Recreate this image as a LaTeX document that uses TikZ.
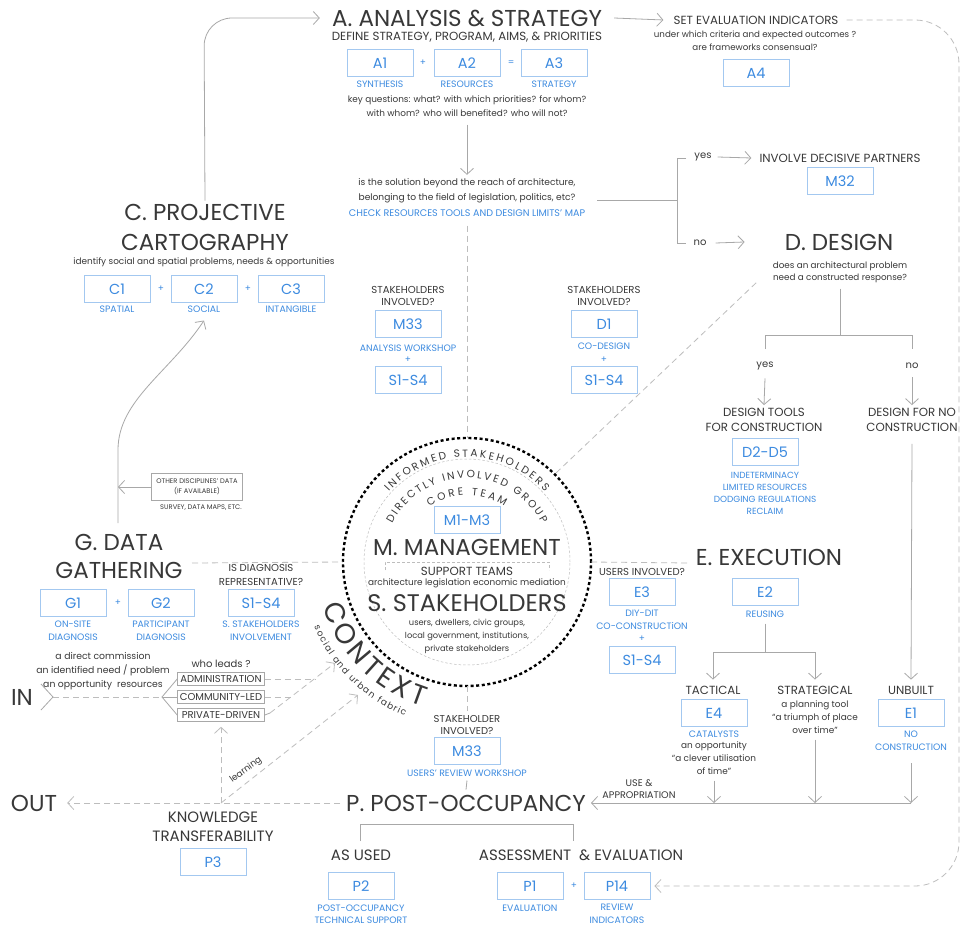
\documentclass[tikz,border=0pt]{standalone}
\usepackage{fontspec}
\setmainfont{Poppins}
\usetikzlibrary{arrows.meta,decorations.text,calc}
\definecolor{ink}{HTML}{383838}
\definecolor{blu}{HTML}{3D8BE0}
\definecolor{boxblue}{HTML}{A3C8F0}
\definecolor{wire}{HTML}{A8A8A8}
\definecolor{faint}{HTML}{BDBDBD}
\tikzset{
  lbl/.style={inner sep=0pt, align=center, text=ink},
  ttl/.style={lbl, font=\fontsize{23}{29}\selectfont},
  sect/.style={lbl, font=\fontsize{15}{19}\selectfont},
  subh/.style={lbl, font=\fontsize{11.8}{15}\selectfont},
  hd/.style={lbl, font=\fontsize{10.1}{12.5}\selectfont},
  nt/.style={lbl, font=\fontsize{8.9}{14}\selectfont},
  bcap/.style={lbl, text=blu, font=\fontsize{9.3}{12.5}\selectfont},
  tny/.style={lbl, font=\fontsize{6.7}{9.5}\selectfont},
  op/.style={lbl, text=blu, font=\fontsize{9}{9}\selectfont},
  code/.style={draw=boxblue, line width=0.9pt, minimum width=66pt, minimum height=27pt,
    inner sep=0pt, text=blu, font=\fontsize{14.5}{14.5}\selectfont},
  ldbox/.style={draw=wire, line width=0.6pt, minimum width=87pt, minimum height=13pt,
    inner sep=0pt, text=ink, font=\fontsize{10}{10}\selectfont},
  conn/.style={draw=wire, line width=0.8pt},
  arw/.style={-{Straight Barb[length=6pt,width=13pt]}},
  dsh/.style={draw=faint, line width=0.8pt, dash pattern=on 6pt off 4pt},
  ring text/.style={decorate, decoration={text along path, text align={fit to path},
    text={|\fontsize{10.5}{10.5}\selectfont\color{ink}|#1}}},
}
\begin{document}
\begin{tikzpicture}[x=1pt,y=1pt]
\fill[white] (0,0) rectangle (961,-928);
\useasboundingbox (0,0) rectangle (961,-928);

% ---------------- A. analysis & strategy ----------------
\node[ttl] (A) at (467,-18) {A. ANALYSIS \& STRATEGY};
\node[subh] (Adef) at (467,-37) {DEFINE STRATEGY, PROGRAM, AIMS, \& PRIORITIES};
\node[code] (A1) at (380,-63) {A1};
\node[op] (Aplus) at (423,-63) {+};
\node[code] (A2) at (467,-63) {A2};
\node[op] (Aeq) at (511,-63) {=};
\node[code] (A3) at (554,-63) {A3};
\node[bcap] (A1c) at (380,-84) {SYNTHESIS};
\node[bcap] (A2c) at (467,-84) {RESOURCES};
\node[bcap] (A3c) at (554,-84) {STRATEGY};
\node[nt] (Aq) at (467,-106) {key questions: what? with which priorities? for whom?\\ with whom? who will benefited? who will not?};

\node[nt, font=\fontsize{9.1}{14.5}\selectfont] (Q) at (467,-191) {is the solution beyond the reach of architecture,\\ belonging to the field of legislation, politics, etc?};
\node[bcap, font=\fontsize{9.6}{10}\selectfont] (Qmap) at (467,-213) {CHECK RESOURCES TOOLS AND DESIGN LIMITS' MAP};
\draw[conn,arw] ([yshift=-8pt]Aq.south) -- ([yshift=4pt]Q.north);

% evaluation indicators
\node[subh] (SEI) at (756,-20) {SET EVALUATION INDICATORS};
\node[nt, font=\fontsize{8.7}{13}\selectfont] (SEIn) at (755,-41) {under which criteria and expected outcomes ?\\ are frameworks consensual?};
\node[code] (A4) at (756,-73) {A4};
\draw[conn,arw] ([xshift=12pt]A.east) -- ([xshift=-10pt]SEI.west);

% ---------------- decision: legislation / politics ----------------
\coordinate (qout) at (597,-200);
\coordinate (fork) at (677,-200);
\draw[conn] (qout) -- (fork);
\draw[conn] (686,-158) -- (677,-158) -- (677,-243) -- (686,-243);
\node[nt, font=\fontsize{10}{10}\selectfont] (yes1) at (703,-157) {yes};
\node[nt, font=\fontsize{10}{10}\selectfont] (no1) at (700,-243) {no};
\node[subh] (INV) at (840,-158) {INVOLVE DECISIVE PARTNERS};
\node[code] (M32) at (840,-181) {M32};
\draw[conn,arw] ([xshift=6pt]yes1.east) -- ([xshift=-8pt]INV.west);
\node[ttl] (D) at (839,-242) {D. DESIGN};
\draw[conn,arw] ([xshift=9pt]no1.east) -- ([xshift=-40pt]D.west);

% ---------------- D. design ----------------
\node[nt, font=\fontsize{8.8}{12}\selectfont] (Dq) at (840,-272) {does an architectural problem\\ need a constructed response?};
\coordinate (dsplit) at (840,-335);
\draw[conn] ([yshift=-6pt]Dq.south) -- (dsplit);
\draw[conn] (765,-349) -- (765,-335) -- (912,-335) -- (912,-349);
\node[nt, font=\fontsize{10}{10}\selectfont] (yes2) at (765,-366) {yes};
\node[nt, font=\fontsize{10}{10}\selectfont] (no2) at (912,-366) {no};
\node[subh] (DT) at (764,-420) {DESIGN TOOLS\\ FOR CONSTRUCTION};
\node[subh] (DN) at (912,-420) {DESIGN FOR NO\\ CONSTRUCTION};
\draw[conn,arw] ([yshift=-8pt]yes2.south) -- ([yshift=3pt]DT.north);
\draw[conn,arw] ([yshift=-8pt]no2.south) -- ([yshift=3pt]DN.north);
\node[code] (D25) at (765,-452) {D2-D5};
\node[bcap, font=\fontsize{8.9}{12}\selectfont] (D25c) at (765,-493) {INDETERMINACY\\ LIMITED RESOURCES\\ DODGING REGULATIONS\\ RECLAIM};

% ---------------- E. execution ----------------
\node[ttl] (E) at (769,-557) {E. EXECUTION};
\node[hd] (Eu) at (642,-572) {USERS INVOLVED?};
\node[code] (E3) at (642,-592) {E3};
\node[bcap, font=\fontsize{9.3}{13}\selectfont] (E3c) at (642,-620) {DIY-DIT\\ CO-CONSTRUCTiON};
\node[op] (E3plus) at (642,-639) {+};
\node[code] (E3s) at (642,-660) {S1-S4};
\node[code] (E2) at (765,-592) {E2};
\node[bcap] (E2c) at (765,-614) {REUSING};
\coordinate (esplit) at (765,-652);
\draw[conn] ([yshift=-6pt]E2c.south) -- (esplit);
\node[subh] (TAC) at (713,-690) {TACTICAL};
\node[subh] (STR) at (815,-690) {STRATEGICAL};
\node[subh] (UNB) at (911,-690) {UNBUILT};
\draw[conn,arw] (esplit) -- (713,-652) -- ([yshift=6pt]TAC.north);
\draw[conn,arw] (esplit) -- (815,-652) -- ([yshift=6pt]STR.north);
\draw[conn,arw] ([yshift=-12pt]DN.south) -- ([yshift=6pt]UNB.north);
\node[code] (E4) at (714,-713) {E4};
\node[bcap] (E4c) at (714,-734) {CATALYSTS};
\node[nt, font=\fontsize{8.9}{13}\selectfont] (E4n) at (714,-758) {an opportunity\\ ``a clever utilisation\\ of time''};
\node[nt, font=\fontsize{8.9}{13}\selectfont] (STRn) at (815,-717) {a planning tool\\ ``a triumph of place\\ over time''};
\node[code] (E1) at (911,-713) {E1};
\node[bcap, font=\fontsize{9.3}{13}\selectfont] (E1c) at (911,-741) {NO\\ CONSTRUCTION};
\coordinate (u1) at (714,-803);
\coordinate (u2) at (815,-803);
\coordinate (u3) at (911,-803);
\draw[conn,arw] ([yshift=-6pt]E4n.south) -- (u1);
\draw[conn,arw] ([yshift=-6pt]STRn.south) -- (u2);
\draw[conn,arw] ([yshift=-12pt]E1c.south) -- (u3);
\node[hd, font=\fontsize{9.6}{12}\selectfont] (USE) at (639,-789) {USE \&\\ APPROPRIATION};

% ---------------- P. post-occupancy ----------------
\node[ttl] (P) at (466,-803) {P. POST-OCCUPANCY};
\draw[conn,arw] (u3) -- ([xshift=5pt]P.east);
\node[hd, font=\fontsize{10}{12}\selectfont] (Pst) at (467,-725) {STAKEHOLDER\\ INVOLVED?};
\node[code] (M33b) at (467,-751) {M33};
\node[bcap] (M33bc) at (467,-773) {USERS' REVIEW WORKSHOP};
\draw[conn] ([yshift=-4pt]M33bc.south) -- ([yshift=5pt]P.north);
\draw[conn] (360,-841) -- (360,-824) -- (573,-824) -- (573,-841);
\node[sect] (ASU) at (361,-855) {AS USED};
\node[code] (P2) at (361,-886) {P2};
\node[bcap] (P2c) at (361,-914) {POST-OCCUPANCY\\ TECHNICAL SUPPORT};
\node[sect] (ASE) at (581,-855) {ASSESSMENT\ \ \& EVALUATION};
\node[code] (P1) at (530,-886) {P1};
\node[op] (Pplus) at (574,-886) {+};
\node[code] (P14) at (617,-886) {P14};
\node[bcap] (P1c) at (530,-908) {EVALUATION};
\node[bcap] (P14c) at (617,-914) {REVIEW\\ INDICATORS};
\node[sect] (KT) at (213,-827) {KNOWLEDGE\\ TRANSFERABILITY};
\node[code] (P3) at (213,-862) {P3};
\node[ttl] (OUT) at (34,-803) {OUT};
\draw[dsh,arw] ([xshift=-6pt]P.west) -- ([xshift=10pt]OUT.east);

% evaluation loop along the right edge
\draw[dsh,arw] ([xshift=8pt]SEI.east) -- (915,-20) arc[start angle=90, end angle=0, radius=44]
  -- (959,-842) arc[start angle=0, end angle=-90, radius=44] -- ([xshift=4pt]P14.east);

% ---------------- C. projective cartography ----------------
\node[ttl, font=\fontsize{23}{30}\selectfont] (C) at (205,-227) {C. PROJECTIVE\\ CARTOGRAPHY};
\node[nt] (Cn) at (204,-262) {identify social and spatial problems, needs \& opportunities};
\node[code] (C1) at (117,-289) {C1};
\node[op] (Cp1) at (161,-289) {+};
\node[code] (C2) at (204,-289) {C2};
\node[op] (Cp2) at (248,-289) {+};
\node[code] (C3) at (291,-289) {C3};
\node[bcap] (C1c) at (117,-309) {SPATIAL};
\node[bcap] (C2c) at (204,-309) {SOCIAL};
\node[bcap] (C3c) at (291,-309) {INTANGIBLE};
\draw[conn,arw,rounded corners=28pt] ([yshift=3pt]C.north) -- (204,-18) -- ([xshift=-12pt]A.west);

% ---------------- G. data gathering ----------------
\node[ttl, font=\fontsize{23}{28}\selectfont] (G) at (119,-556) {G. DATA\\ GATHERING};
\node[code] (G1) at (73,-603) {G1};
\node[op] (Gp) at (118,-603) {+};
\node[code] (G2) at (161,-603) {G2};
\node[code] (GS) at (261,-603) {S1-S4};
\node[bcap, font=\fontsize{9.3}{13}\selectfont] (G1c) at (73,-631) {ON-SITE\\ DIAGNOSIS};
\node[bcap, font=\fontsize{9.3}{13}\selectfont] (G2c) at (161,-631) {PARTICIPANT\\ DIAGNOSIS};
\node[bcap, font=\fontsize{9.3}{13}\selectfont] (GSc) at (261,-631) {S. STAKEHOLDERS\\ INVOLVEMENT};
\node[hd, font=\fontsize{10.1}{14}\selectfont] (Grep) at (261,-575) {IS DIAGNOSIS\\ REPRESENTATIVE?};
\node[draw=wire, line width=0.7pt, minimum width=91pt, minimum height=27pt, tny] (OTH) at (197,-487) {OTHER DISCIPLINES' DATA\\ (IF AVAILABLE)};
\node[tny] (SUR) at (201,-508) {SURVEY, DATA MAPS, ETC.};
\coordinate (gtop) at (118,-523);
\coordinate (gside) at (118,-487);
\draw[conn,arw] (gtop) -- (118,-450) .. controls (118,-400) and (170,-372) .. ([yshift=-8pt]C2c.south);
\draw[conn,arw] (OTH.west) -- (gside);

% ---------------- IN ----------------
\node[ttl] (IN) at (22,-697) {IN};
\node[nt, font=\fontsize{9.3}{14}\selectfont] (INn) at (103,-671) {a direct commission\\ an identified need / problem\\ an opportunity\ \ resources};
\coordinate (inhead) at (53,-697);
\coordinate (lead0) at (162,-697);
\draw[conn] (41,-684) -- (inhead) -- (41,-710);
\draw[dsh] (inhead) -- (lead0);
\node[nt, font=\fontsize{10}{10}\selectfont] (who) at (221,-664) {who leads ?};
\node[ldbox] (ADM) at (221,-679) {ADMINISTRATION};
\node[ldbox] (COM) at (221,-697) {COMMUNITY-LED};
\node[ldbox] (PRI) at (221,-715) {PRIVATE-DRIVEN};
\draw[conn] (ADM.west) -- (lead0) -- (PRI.west);
\draw[conn] (lead0) -- (COM.west);

% ---------------- M. management / S. stakeholders ----------------
\coordinate (M0) at (467,-562);
\draw[faint, line width=0.5pt, dash pattern=on 2.5pt off 2pt] (M0) circle[radius=103];
\draw[black, line width=2.4pt, dash pattern=on 3pt off 2.6pt] (M0) circle[radius=124];
\path[ring text={INFORMED STAKEHOLDERS}]
  ($(M0)+(138:105)$) arc[start angle=138, end angle=42, radius=105];
\path[ring text={DIRECTLY INVOLVED GROUP}]
  ($(M0)+(153:84)$) arc[start angle=153, end angle=27, radius=84];
\path[ring text={CORE TEAM}]
  ($(M0)+(124:67)$) arc[start angle=124, end angle=56, radius=67];
\node[code] (M13) at (467,-520) {M1-M3};
\node[ttl] (M) at (467,-547) {M. MANAGEMENT};
\draw[faint, line width=0.6pt, dash pattern=on 3pt off 2pt] (385,-570) -- (385,-562) -- (549,-562) -- (549,-570);
\node[subh] (SUP) at (467,-571) {SUPPORT TEAMS};
\node[nt] (SUPn) at (467,-583) {architecture legislation economic mediation};
\node[ttl, font=\fontsize{24}{29}\selectfont] (S) at (467,-603) {S. STAKEHOLDERS};
\node[nt, font=\fontsize{8.3}{13}\selectfont] (Sn) at (467,-636) {users, dwellers, civic groups,\\ local government, institutions,\\ private stakeholders};
\path[decorate, decoration={text along path, text align={fit to path},
  text={|\fontsize{28}{28}\selectfont\color{ink}|CONTEXT}}]
  ($(M0)+(197:151)$) arc[start angle=197, end angle=253, radius=151];
\path[decorate, decoration={text along path, text align={fit to path},
  text={|\fontsize{9}{9}\selectfont\color{ink}|social and urban fabric}}]
  ($(M0)+(203:166)$) arc[start angle=203, end angle=248, radius=166];

% stakeholder checks beside the central axis
\node[hd] (Lst) at (408,-296) {STAKEHOLDERS\\ INVOLVED?};
\node[code] (LM33) at (408,-324) {M33};
\node[bcap] (LM33c) at (408,-348) {ANALYSIS WORKSHOP};
\node[op] (Lplus) at (408,-360) {+};
\node[code] (LS) at (408,-380) {S1-S4};
\node[hd] (Rst) at (604,-296) {STAKEHOLDERS\\ INVOLVED?};
\node[code] (D1) at (604,-324) {D1};
\node[bcap] (D1c) at (604,-346) {CO-DESIGN};
\node[op] (Rplus) at (604,-360) {+};
\node[code] (RS) at (604,-380) {S1-S4};

% dashed links of the central circle
\coordinate (gdash) at (192,-563);
\coordinate (edash) at (690,-563);
\coordinate (ddash) at (757,-282);
\draw[dsh] (gdash) -- ($(M0)+(180:124)$);
\draw[dsh] ($(M0)+(0:124)$) -- (edash);
\draw[dsh] ([yshift=-9pt]Qmap.south) -- ($(M0)+(90:124)$);
\draw[dsh] ($(M0)+(270:124)$) -- ([yshift=4pt]Pst.north);
\draw[dsh] ($(M0)+(45:126)$) -- (ddash);

% flows into the context ring
\coordinate (ctx) at (335,-663);
\coordinate (ctx2) at (358,-695);
\coordinate (pbend) at (270,-713);
\coordinate (lrn) at (221,-803);
\draw[conn] (PRI.east) -- (pbend);
\draw[dsh,arw] (pbend) -- (ctx);
\draw[dsh] (ADM.east) -- (315,-679);
\draw[dsh] (COM.east) -- (291,-697);
\draw[dsh,arw] (lrn) -- (ctx2);
\draw[dsh,arw] (lrn) -- ([yshift=-5pt]PRI.south);
\node[nt, rotate=36] (lrnl) at (246,-770) {learning};
\end{tikzpicture}
\end{document}
